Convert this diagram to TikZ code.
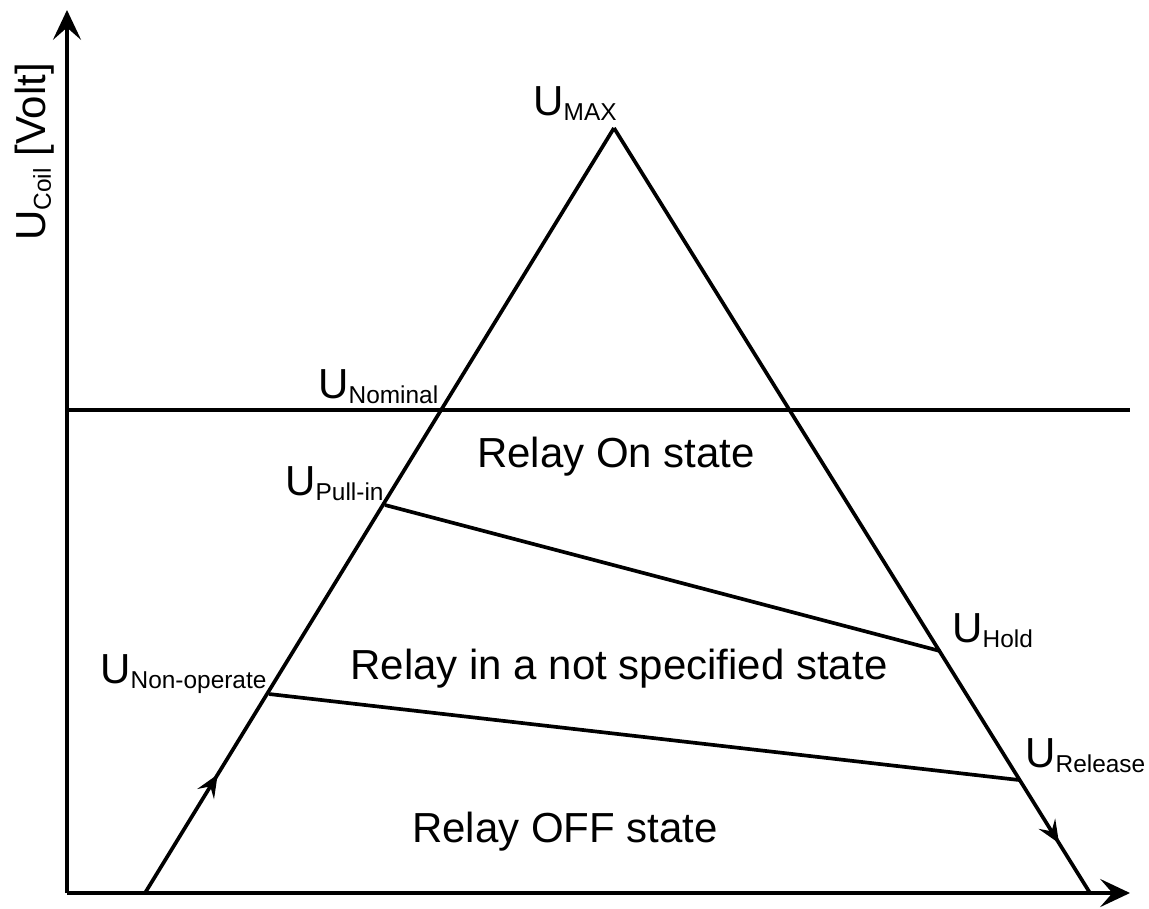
\documentclass[tikz,border=0pt]{standalone}
\usepackage{fontspec}
\setmainfont{Liberation Sans}
\usetikzlibrary{arrows.meta,decorations.markings}
\newcommand{\Ulab}[1]{U\raisebox{-3.4pt}{\fontsize{13.9}{14}\selectfont #1}}
\begin{document}
\begin{tikzpicture}[x=0.02cm,y=-0.02cm,
  line/.style={line width=2.1pt, line join=miter},
  axis/.style={line width=2.1pt, -{Stealth[length=17pt,width=16pt,inset=7pt]}},
  lbl/.style={inner sep=0pt, anchor=base west, font=\fontsize{23.9}{26}\selectfont},
  region/.style={inner sep=0pt, anchor=base, font=\fontsize{23.9}{26}\selectfont},
  midarrow/.style={decoration={markings, mark=at position #1 with {\arrow{Stealth[length=13pt,width=11pt,inset=5pt]}}}, postaction={decorate}}
]
\useasboundingbox (0,0) rectangle (1149,909);
% points
\coordinate (O) at (67,893);
\coordinate (Ytop) at (67,10);
\coordinate (Xend) at (1130,893);
\coordinate (A) at (614,128);
\coordinate (BL) at (145,893);
\coordinate (BR) at (1090,893);
\coordinate (NomL) at (67,410);
\coordinate (NomR) at (1130,410);
\coordinate (Pull) at (385,505);
\coordinate (Hold) at (940,651);
\coordinate (NonOp) at (269,694);
\coordinate (Rel) at (1019,780);
% axes
\draw[axis] (O) -- (Ytop);
\draw[axis] (O) -- (Xend);
% triangle edges
\draw[line, midarrow=0.155] (BL) -- (A);
\draw[line, midarrow=0.935] (A) -- (BR);
% level lines
\draw[line] (NomL) -- (NomR);
\draw[line] (Pull) -- (Hold);
\draw[line] (NonOp) -- (Rel);
% labels
\node[lbl] (lmax) at (533,115) {\Ulab{MAX}};
\node[lbl] (lnom) at (318,398) {\Ulab{Nominal}};
\node[lbl] (lpull) at (285,495) {\Ulab{Pull-in}};
\node[lbl] (lnon) at (100,683) {\Ulab{Non-operate}};
\node[lbl] (lhold) at (952,642) {\Ulab{Hold}};
\node[lbl] (lrel) at (1025,767) {\Ulab{Release}};
\node[region] (ron) at (616,467) {Relay On state};
\node[region] (rns) at (619,679) {Relay in a not specified state};
\node[region] (roff) at (565,842) {Relay OFF state};
\node[inner sep=0pt, anchor=base, rotate=90, font=\fontsize{23.9}{26}\selectfont] (ylab) at (45,152) {\Ulab{Coil} [Volt]};
\end{tikzpicture}
\end{document}
